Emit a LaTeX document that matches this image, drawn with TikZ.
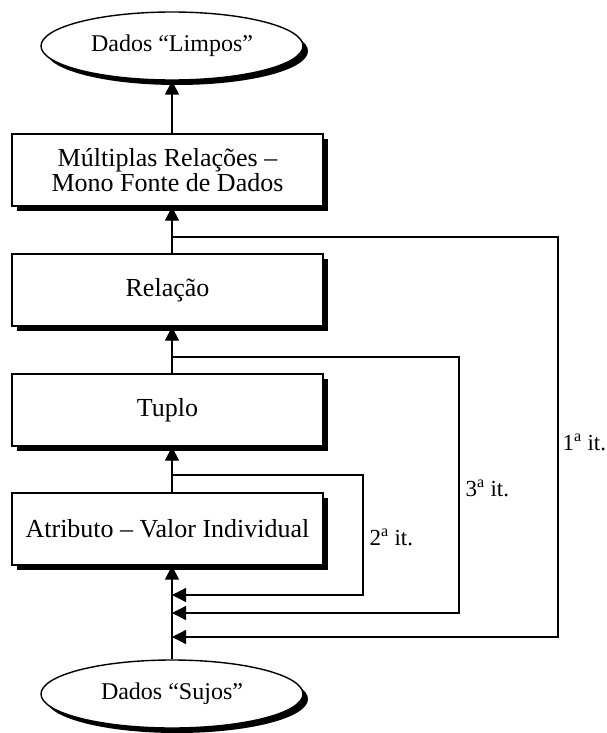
\documentclass[tikz,border=0pt]{standalone}
\usepackage{fontspec}
\setmainfont{Liberation Serif}
\usetikzlibrary{shapes.geometric,shadows,arrows.meta}
\begin{document}
\begin{tikzpicture}[x=1pt,y=-1pt,
  line width=1.4pt,
  shade/.style={drop shadow={shadow xshift=5pt,shadow yshift=-5pt,opacity=1,fill=black}},
  stage/.style={draw,fill=white,shade,minimum width=311pt,minimum height=72pt,
    inner sep=0pt,align=center,font=\fontsize{26}{23.5}\selectfont},
  blob/.style={draw,fill=white,ellipse,shade,minimum width=262pt,minimum height=68pt,
    inner sep=0pt,font=\fontsize{24}{25}\selectfont},
  flow/.style={-{Triangle[width=14pt,length=14pt]}},
  loopline/.style={line width=1.2pt},
  itlabel/.style={anchor=west,inner sep=0pt,font=\fontsize{23}{24}\selectfont}]
\useasboundingbox (0,0) rectangle (607,733);

% data stages
\node[blob]  (clean) at (172,46)  {Dados “Limpos”};
\node[stage] (multi) at (167.5,170) {Múltiplas Relações –\\Mono Fonte de Dados};
\node[stage] (rel)   at (167.5,290) {Relação};
\node[stage] (tup)   at (167.5,410) {Tuplo};
\node[stage] (attr)  at (167.5,529) {Atributo – Valor Individual};
\node[blob]  (dirty) at (172,694) {Dados “Sujos”};

% main vertical flow
\coordinate (spine) at (172,0);
\draw[flow] (multi.north -| spine) -- (clean.south);
\draw[flow] (rel.north -| spine) -- (multi.south -| spine);
\draw[flow] (tup.north -| spine) -- (rel.south -| spine);
\draw[flow] (attr.north -| spine) -- (tup.south -| spine);
\draw[flow] (dirty.north) -- (attr.south -| spine);

% iteration loops back to the input
\coordinate (b1) at (172,237);
\coordinate (e1) at (172,637);
\coordinate (b3) at (172,357);
\coordinate (e3) at (172,613);
\coordinate (b2) at (172,475);
\coordinate (e2) at (172,595);
\draw[loopline,flow] (b1) -- (558,237) -- (558,637) -- (e1);
\draw[loopline,flow] (b3) -- (459,357) -- (459,613) -- (e3);
\draw[loopline,flow] (b2) -- (363,475) -- (363,595) -- (e2);

% iteration labels
\node[itlabel] (l1) at (562,442) {1\textsuperscript{a} it.};
\node[itlabel] (l3) at (465,488) {3\textsuperscript{a} it.};
\node[itlabel] (l2) at (369,537) {2\textsuperscript{a} it.};
\end{tikzpicture}
\end{document}
